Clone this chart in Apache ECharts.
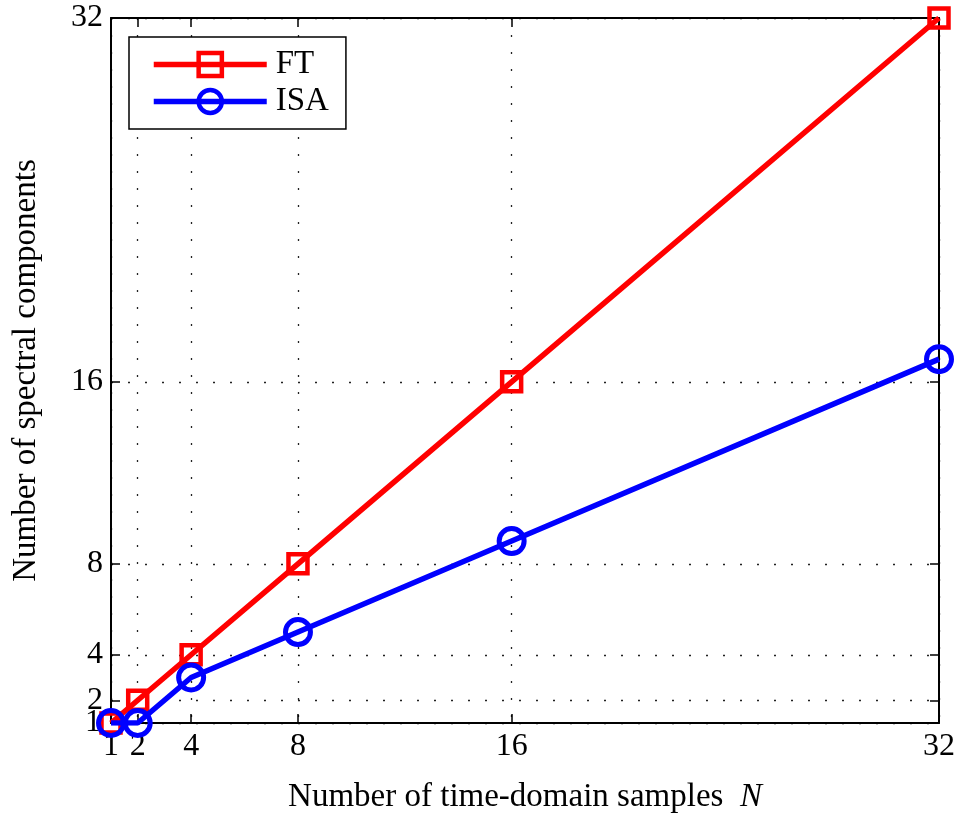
<!DOCTYPE html>
<html lang="en">
<head>
    <meta charset="UTF-8">
    <title>Spectral components</title>
    <style>
        html,body{
            margin: 0;
            height: 100%;
            background: #fff;
        }
        #chart{
            width: 962px;
            height: 815px;
        }
    </style>
    <script src="https://cdn.jsdelivr.net/npm/echarts@6/dist/echarts.min.js"></script>
</head>
<body>
<div id="chart"></div>
<script>
    var samplesN = [1, 2, 4, 8, 16, 32];
    var ftValues = [1, 2, 4, 8, 16, 32];
    var isaValues = [1, 1, 3, 5, 9, 17];
    var xTicks = [1, 2, 4, 8, 16, 32];
    var yTicks = [1, 2, 4, 8, 16, 32];

    var font = 'Liberation Serif';
    var fs = 33;   // titles, legend
    var tfs = 32;  // tick labels

    function pairs(xs, ys) {
        return xs.map(function (x, i) { return [x, ys[i]]; });
    }

    var chart = echarts.init(document.getElementById('chart'));

    function baseAxis(pos, ticks, labels) {
        return {
            type: 'value',
            position: pos,
            min: 1,
            max: 32,
            axisLine: {show: true, onZero: false, lineStyle: {color: '#000', width: 2}},
            axisTick: {show: true, inside: true, length: 9, customValues: ticks,
                lineStyle: {color: '#000', width: 1.5}},
            axisLabel: {show: !!labels, customValues: labels || ticks, color: '#000',
                fontFamily: font, fontSize: tfs, margin: 8,
                showMinLabel: true, showMaxLabel: true, hideOverlap: false},
            splitLine: {show: false}
        };
    }

    var xBottom = baseAxis('bottom', xTicks, xTicks);
    xBottom.splitLine = {show: true, lineStyle: {color: '#222', width: 1.3, type: [2, 15]}};
    xBottom.name = '{a|Number of time-domain samples  }{b|N}';
    xBottom.nameLocation = 'middle';
    xBottom.nameGap = 58;
    xBottom.nameTextStyle = {
        rich: {
            a: {fontFamily: font, fontSize: fs, color: '#000'},
            b: {fontFamily: font, fontSize: fs, color: '#000', fontStyle: 'italic'}
        }
    };
    var xTop = baseAxis('top', xTicks, null);

    // left axis carries the labels 2..32; the "1" sits so close to "2" that
    // echarts drops one of them, so it is drawn by the right axis instead
    var yLeft = baseAxis('left', yTicks, yTicks.slice(1));
    yLeft.splitLine = {show: true, lineStyle: {color: '#222', width: 1.3, type: [2, 15]}};
    yLeft.name = 'Number of spectral components';
    yLeft.nameLocation = 'middle';
    yLeft.nameGap = 68;
    yLeft.nameTextStyle = {fontFamily: font, fontSize: fs, color: '#000'};

    var yRight = baseAxis('right', yTicks, yTicks.slice(0, 1));
    yRight.axisLabel.align = 'right';
    yRight.axisLabel.margin = -(962 - 111 - 23) - 10;

    var option = {
        animation: false,
        backgroundColor: '#fff',
        grid: {left: 111, right: 23, top: 18, bottom: 92, outerBoundsMode: 'none', containLabel: false},
        legend: {
            left: 129,
            top: 37,
            orient: 'vertical',
            backgroundColor: '#fff',
            borderColor: '#000',
            borderWidth: 1.5,
            borderRadius: 0,
            padding: [11, 17, 11, 22],
            itemWidth: 113,
            itemHeight: 29,
            itemGap: 4,
            lineStyle: {width: 5.5},
            itemStyle: {borderWidth: 4.5},
            textStyle: {fontFamily: font, fontSize: fs, color: '#000', padding: [0, 0, 0, 4]},
            data: ['FT', 'ISA']
        },
        xAxis: [xBottom, xTop],
        yAxis: [yLeft, yRight],
        series: [
            {
                name: 'FT',
                type: 'line',
                data: pairs(samplesN, ftValues),
                symbol: 'rect',
                symbolSize: 19,
                lineStyle: {color: '#ff0000', width: 5.5},
                itemStyle: {color: 'rgba(255,255,255,0)', borderColor: '#ff0000', borderWidth: 4.5},
                z: 3
            },
            {
                name: 'ISA',
                type: 'line',
                data: pairs(samplesN, isaValues),
                symbol: 'circle',
                symbolSize: 25,
                lineStyle: {color: '#0000ff', width: 5.5},
                itemStyle: {color: 'rgba(255,255,255,0)', borderColor: '#0000ff', borderWidth: 5},
                z: 4
            }
        ]
    };

    chart.setOption(option);
</script>
</body>
</html>
